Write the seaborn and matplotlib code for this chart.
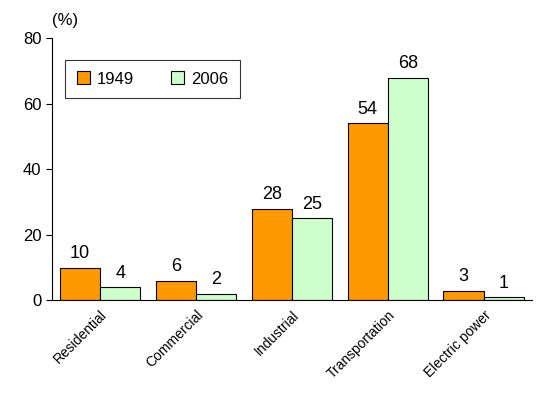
import matplotlib.pyplot as plt
import pandas as pd
import seaborn as sns

sectors = ["Residential", "Commercial", "Industrial", "Transportation", "Electric power"]
years = ["1949", "2006"]
share_1949 = [10, 6, 28, 54, 3]
share_2006 = [4, 2, 25, 68, 1]

df = pd.DataFrame({
    "sector": sectors * 2,
    "year": [years[0]] * 5 + [years[1]] * 5,
    "share": share_1949 + share_2006,
})

sns.set_style("white")
plt.rcParams["font.family"] = ["Liberation Sans", "DejaVu Sans"]
plt.rcParams["text.color"] = "black"
plt.rcParams["xtick.color"] = "black"
plt.rcParams["ytick.color"] = "black"

fig = plt.figure(figsize=(5.42, 4.16), dpi=100)
ax = fig.add_axes([0.096, 0.278, 0.885, 0.63])
sns.barplot(data=df, x="sector", y="share", hue="year",
            palette=["#FF9900", "#CCFFCC"], saturation=1, edgecolor="black", linewidth=0.8,
            width=0.84, ax=ax)

for cont in ax.containers:
    ax.bar_label(cont, padding=4, fontsize=13)

ax.set_ylim(0, 80)
ax.set_yticks([0, 20, 40, 60, 80])
ax.set_xlim(-0.5, 4.5)
ax.set_xlabel("")
ax.set_ylabel("")
ax.tick_params(axis="y", labelsize=12, left=True, length=4, direction="out")
ax.tick_params(axis="x", labelsize=10, bottom=False, pad=2)
plt.setp(ax.get_xticklabels(), rotation=45, ha="right", rotation_mode="anchor")
for s in ["top", "right"]:
    ax.spines[s].set_visible(False)
for s in ["left", "bottom"]:
    ax.spines[s].set_color("black")
    ax.spines[s].set_linewidth(0.8)

ax.text(0.0, 1.04, "(%)", transform=ax.transAxes, fontsize=12, ha="left", va="bottom")
leg = ax.legend(loc="upper left", bbox_to_anchor=(0.01, 0.95), ncol=2, fontsize=12,
                frameon=True, fancybox=False, edgecolor="black",
                handlelength=0.8, handleheight=0.8, handletextpad=0.4,
                columnspacing=2.2, borderpad=0.7)
leg.get_frame().set_linewidth(0.8)

fig.savefig("out.png", dpi=100)
